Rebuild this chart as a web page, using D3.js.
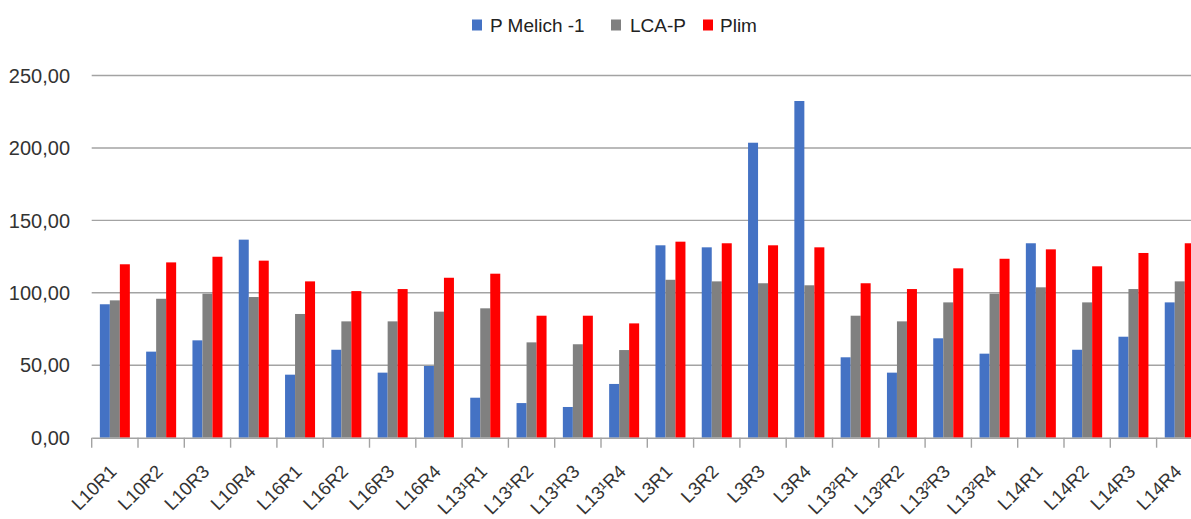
<!DOCTYPE html>
<html>
<head>
<meta charset="utf-8">
<script src="https://cdn.jsdelivr.net/npm/d3@7"></script>
<style>
  html, body { margin: 0; padding: 0; background: #fff; }
  svg { display: block; }
  text { font-family: "Liberation Sans", Arial, sans-serif; fill: #333; }
</style>
</head>
<body>
<svg id="chart" width="1191" height="519"></svg>
<script>
// Samples (lot + repetition)
const categories = [
  "L10R1", "L10R2", "L10R3", "L10R4",
  "L16R1", "L16R2", "L16R3", "L16R4",
  "L13¹R1", "L13¹R2", "L13¹R3", "L13¹R4",
  "L3R1", "L3R2", "L3R3", "L3R4",
  "L13²R1", "L13²R2", "L13²R3", "L13²R4",
  "L14R1", "L14R2", "L14R3", "L14R4"
];

const seriesNames = ["P Melich -1", "LCA-P", "Plim"];

const pMelich = [92.1, 59.4, 67.2, 136.7, 43.5, 60.7, 44.9, 49.5,
                 27.6, 23.9, 21.2, 37.1, 132.8, 131.4, 203.6, 232.4,
                 55.5, 44.9, 68.6, 58.0, 134.2, 60.7, 69.7, 93.4];
const lcaP    = [94.8, 95.9, 99.4, 97.1, 85.4, 80.3, 80.3, 87.0,
                 89.3, 65.8, 64.5, 60.5, 109.0, 107.9, 106.6, 105.2,
                 84.2, 80.3, 93.4, 99.4, 103.8, 93.4, 102.6, 107.9];
const plim    = [119.7, 121.0, 124.9, 122.2, 107.9, 101.2, 102.6, 110.4,
                 113.2, 84.2, 84.2, 78.9, 135.3, 134.2, 132.8, 131.4,
                 106.6, 102.6, 116.9, 123.5, 130.0, 118.3, 127.5, 134.2];

const yTicks = [0, 50, 100, 150, 200, 250];
const colors = ["#4472C4", "#808080", "#FF0000"];

const seriesValues = [pMelich, lcaP, plim];

const svg = d3.select("#chart");

// Plot geometry: the category axis runs past the right edge of the frame
const plotLeft = 91.7;
const step = 46.3;
const plotRight = plotLeft + step * categories.length;
const yZero = 437.7;
const yTop = 75.5;

const x = d3.scaleBand()
  .domain(categories)
  .range([plotLeft, plotRight])
  .paddingInner(0)
  .paddingOuter(0);

const xSub = d3.scaleBand()
  .domain(seriesNames)
  .range([0, x.bandwidth()])
  .paddingInner(0)
  .paddingOuter(0.815);

const y = d3.scaleLinear()
  .domain([0, 250])
  .range([yZero, yTop]);

const fmt = v => d3.format(".2f")(v).replace(".", ",");

// Horizontal gridlines
svg.append("g")
  .selectAll("line")
  .data(yTicks.filter(t => t > 0))
  .join("line")
  .attr("x1", plotLeft)
  .attr("x2", plotRight)
  .attr("y1", d => y(d))
  .attr("y2", d => y(d))
  .attr("stroke", "#a3a3a3")
  .attr("stroke-width", 1.4);

// Y value labels
svg.append("g")
  .selectAll("text")
  .data(yTicks)
  .join("text")
  .attr("x", 70)
  .attr("y", d => y(d))
  .attr("dy", "0.36em")
  .attr("text-anchor", "end")
  .style("font-size", "20px")
  .text(fmt);

// Bars
const rows = categories.map((c, i) => ({
  cat: c,
  vals: seriesNames.map((s, k) => ({ s, k, v: seriesValues[k][i] }))
}));

svg.append("g")
  .selectAll("g")
  .data(rows)
  .join("g")
  .attr("transform", d => `translate(${x(d.cat)},0)`)
  .selectAll("rect")
  .data(d => d.vals)
  .join("rect")
  .attr("x", d => xSub(d.s))
  .attr("width", xSub.bandwidth())
  .attr("y", d => y(d.v))
  .attr("height", d => y(0) - y(d.v))
  .attr("fill", d => colors[d.k]);

// Category axis
const xAxis = d3.axisBottom(x).tickSize(0).tickFormat("");
const axisG = svg.append("g")
  .attr("transform", `translate(0,${yZero})`)
  .call(xAxis);
axisG.select(".domain").attr("stroke", "#a3a3a3").attr("stroke-width", 1.4);

// Tick marks on category boundaries
const boundaries = d3.range(categories.length + 1).map(i => plotLeft + i * step);
svg.append("g")
  .selectAll("line")
  .data(boundaries)
  .join("line")
  .attr("x1", d => d)
  .attr("x2", d => d)
  .attr("y1", yZero)
  .attr("y2", yZero + 10)
  .attr("stroke", "#a3a3a3")
  .attr("stroke-width", 1.4);

// Rotated category labels
svg.append("g")
  .selectAll("text")
  .data(categories)
  .join("text")
  .attr("transform", d => `translate(${x(d) + x.bandwidth() / 2 + 3},${yZero + 35}) rotate(-45)`)
  .attr("text-anchor", "end")
  .style("font-size", "18.5px")
  .text(d => d);

// Legend
const legendItems = [
  { name: seriesNames[0], sx: 472, tx: 490 },
  { name: seriesNames[1], sx: 611, tx: 630 },
  { name: seriesNames[2], sx: 703, tx: 720 }
];
const legend = svg.append("g");
legend.selectAll("rect")
  .data(legendItems)
  .join("rect")
  .attr("x", d => d.sx)
  .attr("y", 19.5)
  .attr("width", 10)
  .attr("height", 11)
  .attr("fill", (d, i) => colors[i]);
legend.selectAll("text")
  .data(legendItems)
  .join("text")
  .attr("x", d => d.tx)
  .attr("y", 25)
  .attr("dy", "0.36em")
  .style("font-size", "19px")
  .style("fill", "#222")
  .text(d => d.name);
</script>
</body>
</html>
